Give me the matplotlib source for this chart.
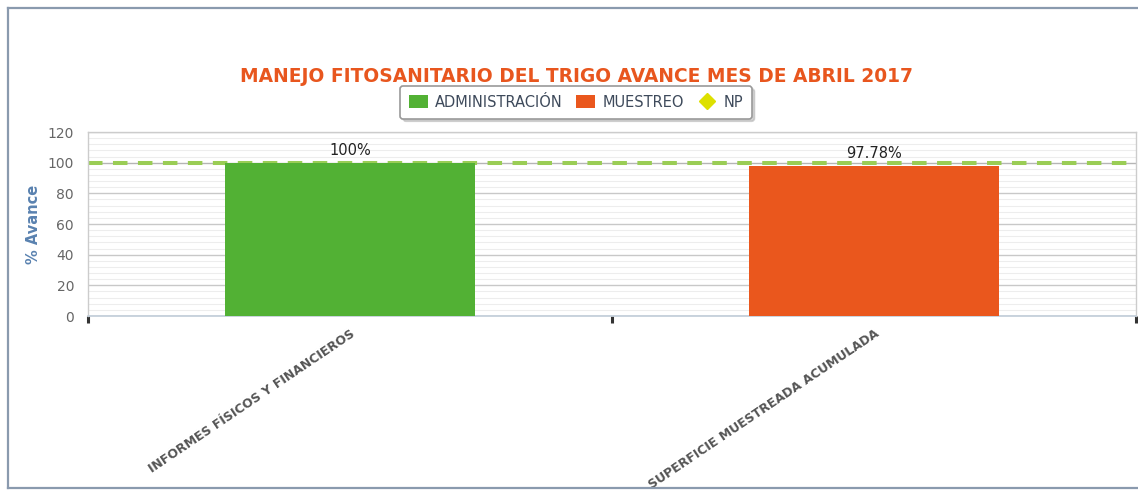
import numpy as np
import matplotlib
matplotlib.use("Agg")
import matplotlib.pyplot as plt
from matplotlib.patches import Patch
from matplotlib.lines import Line2D

# chart data
categories = ["INFORMES FÍSICOS Y FINANCIEROS", "SUPERFICIE MUESTREADA ACUMULADA"]
series_names = ["ADMINISTRACIÓN", "MUESTREO", "NP"]
values = [100, 97.78]
value_labels = ["100%", "97.78%"]
np_value = 100
bar_colors = ["#52b134", "#ea571d"]
np_color = "#dde000"
line_color = "#9acd55"

W, H = 1138, 491
fig = plt.figure(figsize=(W / 100, H / 100), dpi=100)
fig.patch.set_facecolor("white")

# outer frame of the screenshot
fc = "#8a9aae"
fig.add_artist(Line2D([8 / W, 8 / W], [1 - 8 / H, 1 - 488 / H], color=fc, lw=1.6))
fig.add_artist(Line2D([8 / W, 1], [1 - 8 / H, 1 - 8 / H], color=fc, lw=1.6))
fig.add_artist(Line2D([8 / W, 1], [1 - 488 / H, 1 - 488 / H], color=fc, lw=1.6))

ax = fig.add_axes([88 / W, 1 - 316 / H, (1136 - 88) / W, (316 - 132) / H])
x = np.arange(len(categories))

ax.bar(x, values, width=0.476, color=bar_colors, zorder=3)
for xi, v, lab in zip(x, values, value_labels):
    ax.text(xi, v + 3, lab, ha="center", va="bottom", fontsize=10.5, color="#222222", zorder=4)

# NP line
ax.axhline(np_value, color="#b5b5b5", lw=0.8, zorder=2)
ax.axhline(np_value, color=line_color, lw=2.9, dashes=(3.6, 2.6), zorder=2)

ax.set_xlim(-0.5, len(categories) - 0.5)
ax.set_ylim(0, 120)
ax.set_yticks(np.arange(0, 121, 20))
ax.set_yticks(np.arange(0, 121, 4), minor=True)
ax.grid(axis="y", which="major", color="#c8c8c8", lw=1, zorder=0)
ax.grid(axis="y", which="minor", color="#ededed", lw=0.8, zorder=0)
ax.tick_params(axis="y", which="both", length=0, labelsize=10, labelcolor="#666666", pad=10)

# boundary ticks on x and rotated category labels
ax.set_xticks(np.arange(-0.5, len(categories), 1.0))
ax.set_xticklabels([])
ax.tick_params(axis="x", which="major", length=5, width=2.2, color="#333333", direction="out")
ax.set_xticks(x, minor=True)
ax.set_xticklabels(categories, minor=True, rotation=34, ha="right", va="top",
                   rotation_mode="anchor", fontsize=9.0, fontweight="bold", color="#555555")
ax.tick_params(axis="x", which="minor", length=0, pad=8)

for s in ["top", "right", "left"]:
    ax.spines[s].set_color("#cccccc")
    ax.spines[s].set_linewidth(1)
ax.spines["bottom"].set_color("#c0ccd8")
ax.spines["bottom"].set_linewidth(1.2)

fig.text(33 / W, 1 - 224 / H, "% Avance", rotation=90, ha="center", va="center",
         fontsize=10.5, fontweight="bold", color="#5a82b0")

fig.text(576 / W, 1 - 76 / H, "MANEJO FITOSANITARIO DEL TRIGO AVANCE MES DE ABRIL 2017",
         ha="center", va="center", fontsize=13.4, fontweight="bold", color="#e8561e")

handles = [Patch(facecolor=bar_colors[0], edgecolor="none"),
           Patch(facecolor=bar_colors[1], edgecolor="none"),
           Line2D([], [], marker="D", ls="none", color=np_color, markersize=8.5)]
leg = fig.legend(handles, series_names, loc="upper center", bbox_to_anchor=(576 / W, 1 - 86 / H),
                 ncol=3, fontsize=10.5, labelcolor="#3e4a5b", frameon=True, fancybox=True,
                 edgecolor="#999999", handlelength=1.3, handleheight=1.0, handletextpad=0.5,
                 columnspacing=0.9, borderpad=0.6, borderaxespad=0,
                 shadow={"color": "#aaaaaa", "alpha": 0.5})
leg.get_frame().set_linewidth(1.2)

fig.savefig("out.png", dpi=100)
